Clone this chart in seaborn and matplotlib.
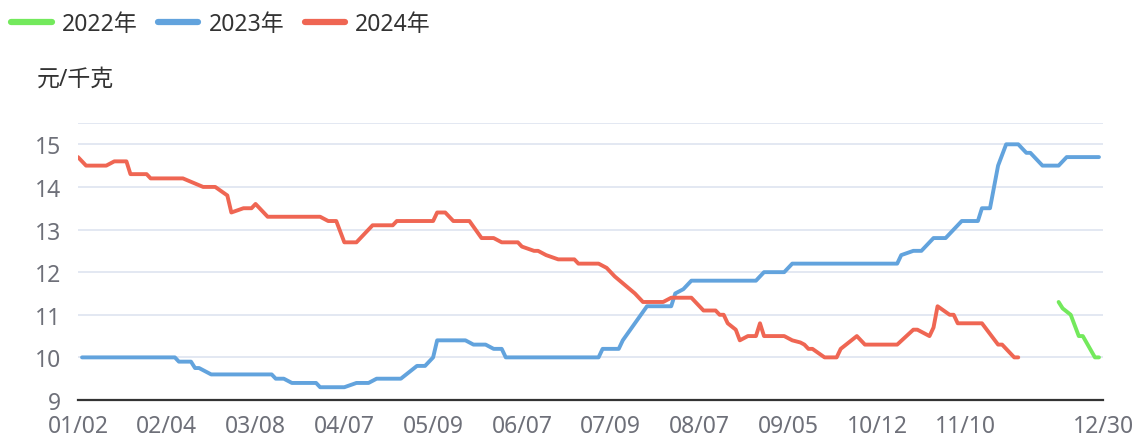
import matplotlib
matplotlib.use("Agg")
import matplotlib.pyplot as plt
import seaborn as sns
import pandas as pd
from matplotlib.lines import Line2D

# x is the category position (0 = 01/02, 254 = 12/30), values in 元/千克
red_idx = [0, 2, 7, 9, 12, 13, 17, 18, 26, 31, 34, 37, 38, 41, 43, 44, 45, 47,
           60, 62, 64, 66, 69, 73, 78, 79, 88, 89, 91, 93, 97, 100, 103, 105,
           109, 110, 113, 114, 116, 119, 123, 124, 129, 131, 133, 138, 140,
           145, 147, 152, 155, 158, 159, 160, 161, 163, 164, 166, 168, 169,
           170, 175, 177, 179, 180, 181, 182, 185, 188, 189, 193, 195, 203,
           207, 208, 211, 212, 213, 216, 217, 218, 224, 226, 228, 229, 232, 233]
red_val = [14.7, 14.5, 14.5, 14.6, 14.6, 14.3, 14.3, 14.2, 14.2, 14.0, 14.0,
           13.8, 13.4, 13.5, 13.5, 13.6, 13.5, 13.3,
           13.3, 13.2, 13.2, 12.7, 12.7, 13.1, 13.1, 13.2, 13.2, 13.4, 13.4,
           13.2, 13.2, 12.8, 12.8, 12.7,
           12.7, 12.6, 12.5, 12.5, 12.4, 12.3, 12.3, 12.2, 12.2, 12.1, 11.9,
           11.5, 11.3,
           11.3, 11.4, 11.4, 11.1, 11.1, 11.0, 11.0, 10.8, 10.65, 10.4, 10.5,
           10.5, 10.8,
           10.5, 10.5, 10.4, 10.35, 10.3, 10.2, 10.2, 10.0, 10.0, 10.2, 10.5,
           10.3, 10.3,
           10.65, 10.65, 10.5, 10.7, 11.2, 11.0, 11.0, 10.8, 10.8, 10.55, 10.3,
           10.3, 10.0, 10.0]

blue_idx = [1, 24, 25, 28, 29, 30, 33, 48, 49, 51, 53, 59, 60, 66, 69, 72, 74,
            80, 84, 86, 88, 89, 96, 98, 101, 103, 105, 106, 129, 130, 134, 135,
            141, 147, 148, 150, 152, 168, 170, 175, 177, 203, 204, 207, 209,
            212, 215, 217, 219, 223, 224, 226, 228, 230, 233, 235, 236, 239,
            243, 245, 253]
blue_val = [10.0, 10.0, 9.9, 9.9, 9.75, 9.75, 9.6, 9.6, 9.5, 9.5, 9.4, 9.4,
            9.3, 9.3, 9.4, 9.4, 9.5,
            9.5, 9.8, 9.8, 10.0, 10.4, 10.4, 10.3, 10.3, 10.2, 10.2, 10.0,
            10.0, 10.2, 10.2, 10.4,
            11.2, 11.2, 11.5, 11.6, 11.8, 11.8, 12.0, 12.0, 12.2, 12.2, 12.4,
            12.5, 12.5,
            12.8, 12.8, 13.0, 13.2, 13.2, 13.5, 13.5, 14.5, 15.0, 15.0, 14.8,
            14.8, 14.5,
            14.5, 14.7, 14.7]

green_idx = [243, 244, 246, 248, 249, 252, 253]
green_val = [11.3, 11.15, 11.0, 10.5, 10.5, 10.0, 10.0]

tick_pos = [0, 22, 44, 66, 88, 110, 132, 154, 176, 198, 220, 242, 254]
tick_labels = ["01/02", "02/04", "03/08", "04/07", "05/09", "06/07", "07/09",
               "08/07", "09/05", "10/12", "11/10", "", "12/30"]

series_names = ["2022年", "2023年", "2024年"]
colors = {"2022年": "#73e95c", "2023年": "#62a3dd", "2024年": "#ef6653"}

frames = [
    pd.DataFrame({"x": green_idx, "价格": green_val, "年份": "2022年"}),
    pd.DataFrame({"x": blue_idx, "价格": blue_val, "年份": "2023年"}),
    pd.DataFrame({"x": red_idx, "价格": red_val, "年份": "2024年"}),
]
df = pd.concat(frames, ignore_index=True)

sns.set_theme(style="white")
plt.rcParams["font.family"] = ["Noto Sans", "Noto Sans CJK SC", "DejaVu Sans"]

fig = plt.figure(figsize=(11.38, 4.39), dpi=100)
ax = fig.add_axes([78 / 1138, 1 - 401 / 439, 1025 / 1138, 277 / 439])

sns.lineplot(data=df, x="x", y="价格", hue="年份", palette=colors,
             estimator=None, sort=True, linewidth=2.8, legend=False, ax=ax)
for ln in ax.lines:
    ln.set_solid_joinstyle("round")
    ln.set_solid_capstyle("round")

ax.set_xlim(0, 254)
ax.set_ylim(9, 15.5)
ax.set_yticks(range(9, 16))
for v in [10, 11, 12, 13, 14, 15, 15.5]:
    ax.axhline(v, color="#e0e6f1", lw=1.3, zorder=0)

ax.set_xticks(tick_pos)
ax.set_xticklabels(tick_labels)
ax.tick_params(axis="x", direction="out", length=7, width=1.6,
               color="#333333", labelsize=16.5, labelcolor="#6e7079", pad=3)
ax.tick_params(axis="y", length=0, labelsize=16.5, labelcolor="#6e7079", pad=12)
ax.set_xlabel("")
ax.set_ylabel("")
for s in ["top", "right", "left"]:
    ax.spines[s].set_visible(False)
ax.spines["bottom"].set_color("#333333")
ax.spines["bottom"].set_linewidth(1.6)
ax.grid(False)

handles = [Line2D([0], [0], color=colors[n], lw=4.5) for n in series_names]
fig.legend(handles, series_names, loc="upper left", bbox_to_anchor=(0.0, 0.997),
           ncol=3, frameon=False, fontsize=16.5, handlelength=1.75,
           handletextpad=0.45, columnspacing=0.9, labelcolor="#333333",
           borderaxespad=0.1)

fig.text(37 / 1138, 1 - 80 / 439, "元/千克", fontsize=16.5, color="#333333",
         ha="left", va="center")

fig.savefig("out.png", dpi=100)
